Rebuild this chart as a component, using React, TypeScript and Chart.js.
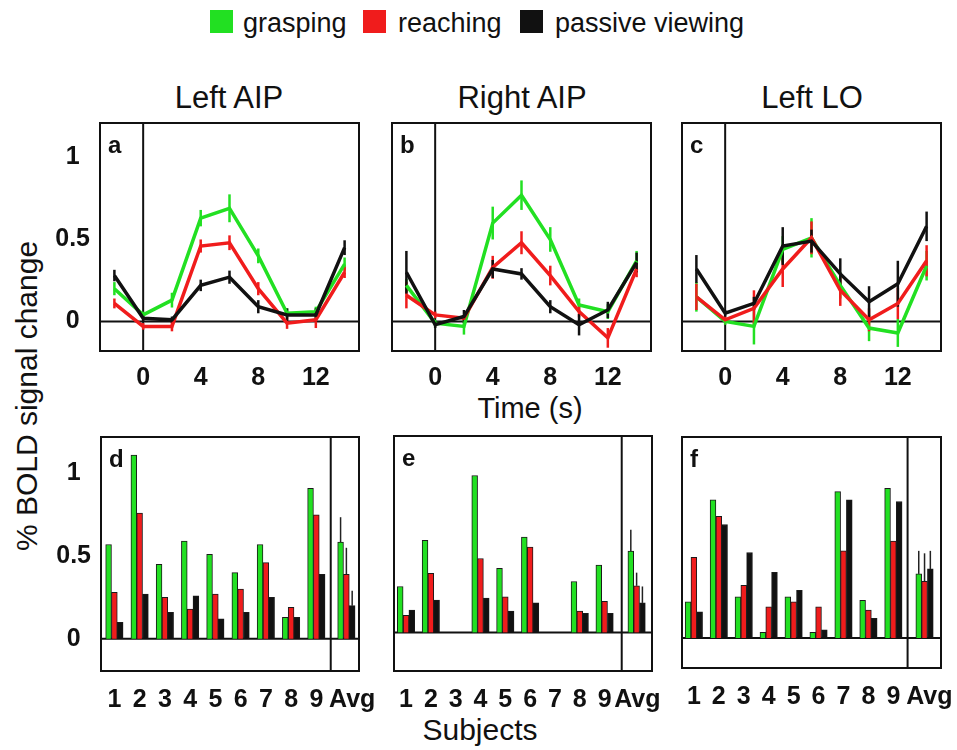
import React, { useEffect, useRef } from "react";
import { Chart, registerables } from "chart.js";
Chart.register(...registerables);

const FONT = "'Liberation Sans', Arial, Helvetica, sans-serif";
const GREEN = "#22e022";
const RED = "#f01c1c";
const BLACK = "#111111";

// ---------- time-course data (panels a-c) ----------
const timePoints = [-2, 0, 2, 4, 6, 8, 10, 12, 14];
const timeTicks = [0, 4, 8, 12];
const percentTicks = [0, 0.5, 1];

const leftAIPGrasp = [0.2, 0.04, 0.13, 0.63, 0.69, 0.4, 0.05, 0.06, 0.35];
const leftAIPGraspErr = [0.04, 0.02, 0.045, 0.05, 0.085, 0.045, 0.03, 0.03, 0.04];
const leftAIPReach = [0.11, -0.03, -0.03, 0.46, 0.48, 0.2, -0.01, 0.01, 0.3];
const leftAIPReachErr = [0.03, 0.02, 0.03, 0.04, 0.045, 0.04, 0.035, 0.05, 0.035];
const leftAIPPassive = [0.28, 0.02, 0.01, 0.22, 0.27, 0.09, 0.04, 0.04, 0.45];
const leftAIPPassiveErr = [0.035, 0.02, 0.02, 0.035, 0.04, 0.04, 0.04, 0.04, 0.045];

const rightAIPGrasp = [0.22, -0.01, -0.03, 0.6, 0.77, 0.5, 0.1, 0.06, 0.37];
const rightAIPGraspErr = [0.04, 0.02, 0.05, 0.1, 0.09, 0.075, 0.04, 0.045, 0.06];
const rightAIPReach = [0.16, 0.04, 0.02, 0.33, 0.48, 0.28, 0.06, -0.1, 0.32];
const rightAIPReachErr = [0.08, 0.02, 0.02, 0.07, 0.07, 0.06, 0.035, 0.06, 0.05];
const rightAIPPassive = [0.3, -0.02, 0.03, 0.32, 0.29, 0.09, -0.02, 0.07, 0.36];
const rightAIPPassiveErr = [0.13, 0.02, 0.04, 0.055, 0.035, 0.04, 0.065, 0.05, 0.06];

const leftLOGrasp = [0.15, 0.0, -0.03, 0.44, 0.51, 0.22, -0.04, -0.07, 0.34];
const leftLOGraspErr = [0.09, 0.02, 0.11, 0.08, 0.12, 0.08, 0.08, 0.085, 0.09];
const leftLOReach = [0.15, 0.01, 0.08, 0.32, 0.51, 0.19, 0.01, 0.11, 0.37];
const leftLOReachErr = [0.08, 0.02, 0.11, 0.11, 0.1, 0.095, 0.07, 0.095, 0.095];
const leftLOPassive = [0.32, 0.05, 0.11, 0.46, 0.49, 0.29, 0.12, 0.23, 0.58];
const leftLOPassiveErr = [0.085, 0.02, 0.04, 0.115, 0.07, 0.095, 0.095, 0.14, 0.09];

// ---------- per-subject data (panels d-f) ----------
const subjectLabels = ["1", "2", "3", "4", "5", "6", "7", "8", "9", "Avg"];

const subjLeftAIPGrasp = [0.57, 1.11, 0.45, 0.59, 0.51, 0.4, 0.57, 0.13, 0.91, 0.585];
const subjLeftAIPReach = [0.28, 0.76, 0.25, 0.18, 0.27, 0.3, 0.46, 0.19, 0.75, 0.39];
const subjLeftAIPPassive = [0.1, 0.27, 0.16, 0.26, 0.12, 0.16, 0.25, 0.13, 0.39, 0.2];
const avgLeftAIPErr = [0.15, 0.16, 0.09];

const subjRightAIPGrasp = [0.28, 0.56, null, 0.955, 0.39, 0.58, null, 0.31, 0.41, 0.495];
const subjRightAIPReach = [0.105, 0.36, null, 0.45, 0.217, 0.52, null, 0.13, 0.19, 0.284];
const subjRightAIPPassive = [0.136, 0.197, null, 0.21, 0.13, 0.18, null, 0.116, 0.116, 0.18];
const avgRightAIPErr = [0.13, 0.08, 0.1];

const subjLeftLOGrasp = [0.22, 0.84, 0.25, 0.035, 0.25, 0.035, 0.89, 0.23, 0.91, 0.39];
const subjLeftLOReach = [0.49, 0.74, 0.32, 0.19, 0.22, 0.19, 0.53, 0.17, 0.59, 0.345];
const subjLeftLOPassive = [0.16, 0.69, 0.52, 0.4, 0.29, 0.05, 0.84, 0.12, 0.83, 0.42];
const avgLeftLOErr = [0.14, 0.17, 0.11];

type Series = { color: string; values: (number | null)[]; errors: (number | null)[] };
type Spec = {
  kind: "line" | "bar";
  letter: string;
  box: [number, number, number, number];
  xMin: number;
  xMax: number;
  yMin: number;
  yMax: number;
  showY: boolean;
  xs: number[];
  xTicks: { value: number; label: string }[];
  vLine?: number;
  sep?: number;
  series: Series[];
};

const avgOnly = (e: number) => [null, null, null, null, null, null, null, null, null, e];

function barSpec(letter: string, box: [number, number, number, number], xMin: number, xMax: number, yMin: number, yMax: number, sep: number, avgBar: number, avgLabel: number, showY: boolean, g: (number | null)[], r: (number | null)[], k: (number | null)[], err: number[]): Spec {
  const xs = subjectLabels.map((_, i) => (i < 9 ? i + 1 : avgBar));
  return {
    kind: "bar", letter, box, xMin, xMax, yMin, yMax, showY, xs, sep,
    xTicks: subjectLabels.map((l, i) => ({ value: i < 9 ? i + 1 : avgLabel, label: l })),
    series: [
      { color: GREEN, values: g, errors: avgOnly(err[0]) },
      { color: RED, values: r, errors: avgOnly(err[1]) },
      { color: BLACK, values: k, errors: avgOnly(err[2]) },
    ],
  };
}

function lineSpec(letter: string, box: [number, number, number, number], showY: boolean, g: number[], ge: number[], r: number[], re: number[], k: number[], ke: number[]): Spec {
  return {
    kind: "line", letter, box, xMin: -3, xMax: 15, yMin: -0.18, yMax: 1.21, showY, xs: timePoints, vLine: 0,
    xTicks: timeTicks.map((t) => ({ value: t, label: String(t) })),
    series: [
      { color: GREEN, values: g, errors: ge },
      { color: RED, values: r, errors: re },
      { color: BLACK, values: k, errors: ke },
    ],
  };
}

const SPECS: Spec[] = [
  lineSpec("a", [100, 123, 359, 351], true, leftAIPGrasp, leftAIPGraspErr, leftAIPReach, leftAIPReachErr, leftAIPPassive, leftAIPPassiveErr),
  lineSpec("b", [392, 123, 651, 351], false, rightAIPGrasp, rightAIPGraspErr, rightAIPReach, rightAIPReachErr, rightAIPPassive, rightAIPPassiveErr),
  lineSpec("c", [682, 123, 941, 351], false, leftLOGrasp, leftLOGraspErr, leftLOReach, leftLOReachErr, leftLOPassive, leftLOPassiveErr),
  barSpec("d", [101, 437, 358.5, 670.5], 0.47, 10.69, -0.195, 1.22, 9.57, 10.19, 10.42, true, subjLeftAIPGrasp, subjLeftAIPReach, subjLeftAIPPassive, avgLeftAIPErr),
  barSpec("e", [394, 436, 651.7, 670.7], 0.516, 10.91, -0.234, 1.195, 9.69, 10.29, 10.32, false, subjRightAIPGrasp, subjRightAIPReach, subjRightAIPPassive, avgRightAIPErr),
  barSpec("f", [682.3, 437.3, 941.7, 668.3], 0.524, 10.91, -0.182, 1.222, 9.57, 10.25, 10.44, false, subjLeftLOGrasp, subjLeftLOReach, subjLeftLOPassive, avgLeftLOErr),
];

const framePlugin = {
  id: "frame",
  beforeDatasetsDraw(chart: any, _a: any, opts: any) {
    const { ctx, chartArea: a } = chart;
    const x = chart.scales.x;
    const y = chart.scales.y;
    ctx.save();
    ctx.strokeStyle = "#111";
    ctx.lineWidth = 2;
    ctx.beginPath();
    const y0 = y.getPixelForValue(0);
    ctx.moveTo(a.left, y0);
    ctx.lineTo(a.right, y0);
    if (opts.vLine != null) {
      const px = x.getPixelForValue(opts.vLine);
      ctx.moveTo(px, a.top);
      ctx.lineTo(px, a.bottom);
    }
    ctx.stroke();
    chart.data.datasets.forEach((ds: any, i: number) => {
      const meta = chart.getDatasetMeta(i);
      const errs = ds.errors as (number | null)[];
      if (!errs) return;
      ctx.strokeStyle = opts.kind === "line" ? ds.borderColor : "#222";
      ctx.lineWidth = opts.kind === "line" ? 2.5 : 1.5;
      meta.data.forEach((el: any, j: number) => {
        const e = errs[j];
        const v = ds.data[j].y;
        if (e == null || v == null) return;
        const top = y.getPixelForValue(v + e);
        const bot = y.getPixelForValue(opts.kind === "line" ? v - e : v);
        ctx.beginPath();
        ctx.moveTo(el.x, top);
        ctx.lineTo(el.x, bot);
        ctx.stroke();
      });
    });
    ctx.restore();
  },
  afterDatasetsDraw(chart: any, _a: any, opts: any) {
    const { ctx, chartArea: a } = chart;
    const x = chart.scales.x;
    ctx.save();
    ctx.strokeStyle = "#111";
    ctx.lineWidth = 2;
    if (opts.sep != null) {
      const px = x.getPixelForValue(opts.sep);
      ctx.beginPath();
      ctx.moveTo(px, a.top);
      ctx.lineTo(px, a.bottom);
      ctx.stroke();
    }
    ctx.strokeRect(a.left, a.top, a.right - a.left, a.bottom - a.top);
    ctx.fillStyle = "#111";
    ctx.font = `bold 24px ${FONT}`;
    ctx.textBaseline = "alphabetic";
    ctx.textAlign = "left";
    ctx.fillText(opts.letter, a.left + 8, a.top + 30);
    ctx.restore();
  },
};

function Panel({ spec }: { spec: Spec }) {
  const ref = useRef<HTMLCanvasElement | null>(null);
  const [l, t, r, b] = spec.box;
  const padT = 40;
  const padB = 52;
  const padL = spec.showY ? 60 : 20;
  const padR = 40;
  const width = Math.round(padL + (r - l) + padR);
  const height = Math.round(padT + (b - t) + padB);

  useEffect(() => {
    if (!ref.current) return;
    const isLine = spec.kind === "line";
    const tickFont = { family: FONT, size: 25, weight: "bold" as const };
    const chart = new Chart(ref.current, {
      type: spec.kind,
      data: {
        datasets: spec.series.map((s, i) => ({
          data: spec.xs.map((x, j) => ({ x, y: s.values[j] })),
          errors: s.errors,
          borderColor: isLine ? s.color : "#1a1a1a",
          backgroundColor: s.color,
          borderWidth: isLine ? 3.5 : 1,
          pointRadius: 0,
          tension: 0,
          order: isLine ? 2 - i : 0,
          barThickness: 5.8,
        })) as any,
      },
      options: {
        responsive: false,
        animation: false,
        devicePixelRatio: 1,
        layout: { padding: { top: padT, right: padR, bottom: 0, left: spec.showY ? 0 : padL } },
        plugins: {
          legend: { display: false },
          tooltip: { enabled: false },
          frame: { kind: spec.kind, letter: spec.letter, vLine: spec.vLine, sep: spec.sep },
        } as any,
        scales: {
          x: {
            type: "linear",
            min: spec.xMin,
            max: spec.xMax,
            offset: false,
            grid: { display: false, drawTicks: false },
            border: { display: false },
            afterBuildTicks: (s: any) => {
              s.ticks = spec.xTicks.map((tk) => ({ value: tk.value }));
            },
            afterFit: (s: any) => {
              s.height = padB;
            },
            ticks: {
              autoSkip: false,
              maxRotation: 0,
              minRotation: 0,
              padding: isLine ? 12 : 14,
              color: "#111",
              font: tickFont,
              callback: (_v: any, i: number) => spec.xTicks[i]?.label ?? "",
            },
          },
          y: {
            type: "linear",
            display: spec.showY,
            min: spec.yMin,
            max: spec.yMax,
            grid: { display: false, drawTicks: false },
            border: { display: false },
            afterBuildTicks: (s: any) => {
              s.ticks = percentTicks.map((v) => ({ value: v }));
            },
            afterFit: (s: any) => {
              s.width = spec.showY ? padL : 0;
            },
            ticks: {
              crossAlign: "center",
              padding: 10,
              color: "#111",
              font: tickFont,
              callback: (v: any) => String(v),
            },
          },
        } as any,
      },
      plugins: [framePlugin as any],
    });
    return () => chart.destroy();
  }, [spec]);

  return (
    <canvas
      ref={ref}
      width={width}
      height={height}
      style={{ position: "absolute", left: l - padL, top: t - padT, width, height }}
    />
  );
}

function Txt({ x, baseline, size, children, center = false }: { x: number; baseline: number; size: number; children: React.ReactNode; center?: boolean }) {
  return (
    <div
      style={{
        position: "absolute",
        left: x,
        top: baseline - 0.8465 * size,
        fontSize: size,
        lineHeight: 1,
        fontFamily: FONT,
        color: "#111",
        whiteSpace: "nowrap",
        transform: center ? "translateX(-50%)" : undefined,
      }}
    >
      {children}
    </div>
  );
}

const legendItems = [
  { label: "grasping", color: GREEN, sq: 210, tx: 243 },
  { label: "reaching", color: RED, sq: 363, tx: 398 },
  { label: "passive viewing", color: BLACK, sq: 520, tx: 555 },
];

const panelTitles = [
  { label: "Left AIP", x: 229 },
  { label: "Right AIP", x: 522 },
  { label: "Left LO", x: 812 },
];

export default function App() {
  return (
    <div style={{ position: "absolute", left: 0, top: 0, width: 957, height: 750, overflow: "hidden", background: "#fff" }}>
      {legendItems.map((it) => (
        <React.Fragment key={it.label}>
          <div style={{ position: "absolute", left: it.sq, top: 10, width: 23, height: 23, background: it.color }} />
          <Txt x={it.tx} baseline={33} size={27}>{it.label}</Txt>
        </React.Fragment>
      ))}
      {panelTitles.map((p) => (
        <Txt key={p.label} x={p.x} baseline={108} size={31} center>{p.label}</Txt>
      ))}
      <Txt x={530} baseline={419} size={29} center>Time (s)</Txt>
      <Txt x={480} baseline={740} size={30} center>Subjects</Txt>
      <div
        style={{
          position: "absolute",
          left: 27,
          top: 396,
          fontSize: 30,
          lineHeight: 1,
          fontFamily: FONT,
          color: "#111",
          whiteSpace: "nowrap",
          transform: "translate(-50%, -50%) rotate(-90deg)",
        }}
      >
        % BOLD signal change
      </div>
      {SPECS.map((s) => (
        <Panel key={s.letter} spec={s} />
      ))}
    </div>
  );
}
